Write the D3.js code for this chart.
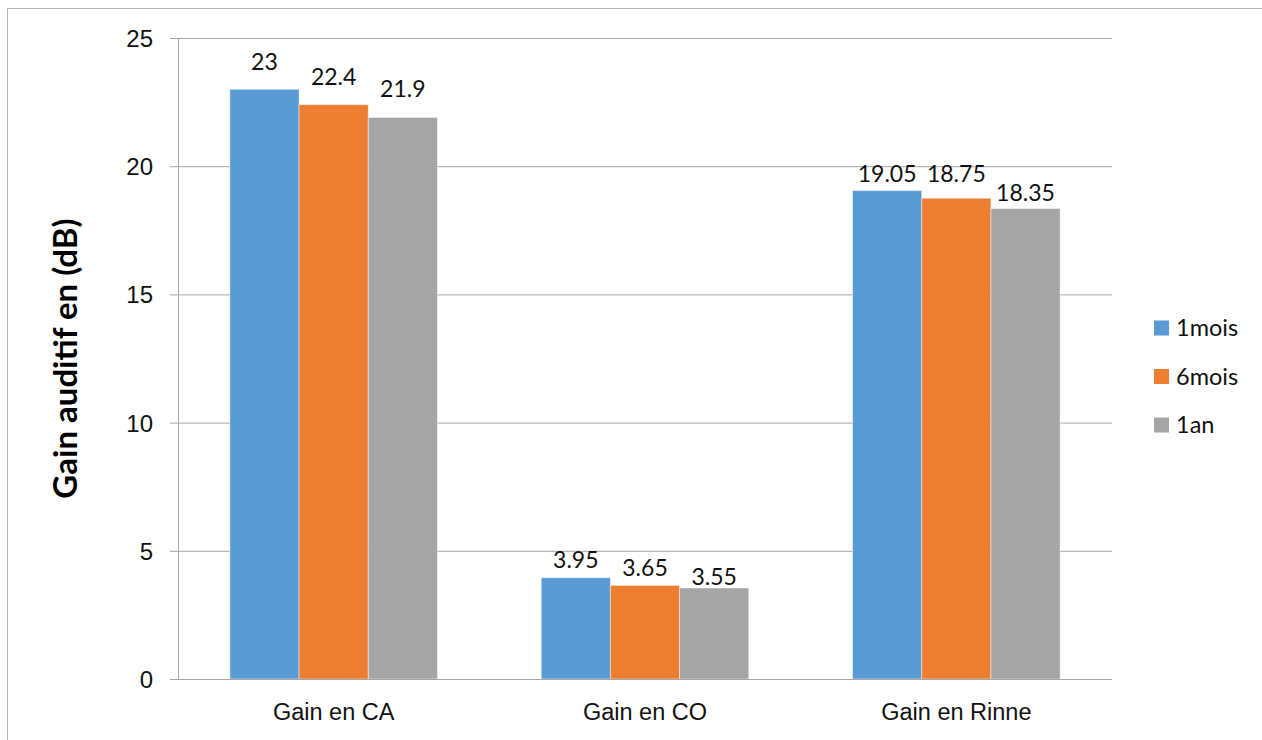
<!DOCTYPE html>
<html>
<head>
<meta charset="utf-8">
<script src="https://cdn.jsdelivr.net/npm/d3@7/dist/d3.min.js"></script>
<style>
  html, body { margin: 0; padding: 0; background: #fff; }
  svg { display: block; font-family: Lato, "Open Sans", sans-serif; }
</style>
</head>
<body>
<svg id="chart" width="1262" height="740"></svg>
<script>
// Hearing gain per test, at three follow-up times
const categories = ["Gain en CA", "Gain en CO", "Gain en Rinne"];
const seriesNames = ["1mois", "6mois", "1an"];
const gain1mois = [23, 3.95, 19.05];
const gain6mois = [22.4, 3.65, 18.75];
const gain1an = [21.9, 3.55, 18.35];
const yTicks = [0, 5, 10, 15, 20, 25];
const yTitle = "Gain auditif en (dB)";

const seriesValues = [gain1mois, gain6mois, gain1an];
const colors = ["#5B9BD5", "#ED7D31", "#A5A5A5"];

const svg = d3.select("#chart");

// frame around the chart
svg.append("rect")
  .attr("x", 7.5).attr("y", 8.5)
  .attr("width", 1300).attr("height", 800)
  .attr("fill", "none").attr("stroke", "#b3b3b3").attr("stroke-width", 1);

const plot = { left: 178, right: 1112, top: 38, bottom: 679 };

const x = d3.scaleBand()
  .domain(categories)
  .range([plot.left, plot.right])
  .paddingInner(1 / 3)
  .paddingOuter(1 / 6);

const xs = d3.scaleBand()
  .domain(seriesNames)
  .range([0, x.bandwidth()])
  .padding(0);

const y = d3.scaleLinear()
  .domain([0, 25])
  .range([plot.bottom, plot.top]);

// gridlines and left ticks
const yAxis = d3.axisLeft(y)
  .tickValues(yTicks)
  .tickSize(-(plot.right - plot.left))
  .tickPadding(25)
  .tickFormat(d3.format("d"));

const gy = svg.append("g")
  .attr("transform", `translate(${plot.left},0)`)
  .call(yAxis);
gy.select(".domain").remove();
gy.selectAll(".tick line")
  .attr("stroke", "#a6a6a6")
  .attr("stroke-width", 1)
  .attr("x1", -8);
gy.selectAll(".tick text")
  .attr("fill", "#111")
  .style("font-size", "24px")
  .attr("dy", "0.35em");

// vertical axis line
svg.append("line")
  .attr("x1", plot.left + 0.5).attr("x2", plot.left + 0.5)
  .attr("y1", plot.top).attr("y2", plot.bottom)
  .attr("stroke", "#a6a6a6").attr("stroke-width", 1);

// bars
const rows = categories.map((c, i) => ({
  category: c,
  values: seriesNames.map((s, j) => ({ series: s, value: seriesValues[j][i], j }))
}));

// vertical label lift above each bar (px), to keep neighbouring labels apart
const labelLift = [[19, 20, 20], [10, 9, 3], [9, 16, 8]];

const groups = svg.append("g").selectAll("g")
  .data(rows)
  .join("g")
  .attr("transform", d => `translate(${x(d.category)},0)`);

groups.selectAll("rect")
  .data(d => d.values)
  .join("rect")
  .attr("x", d => xs(d.series))
  .attr("y", d => y(d.value))
  .attr("width", xs.bandwidth())
  .attr("height", d => y(0) - y(d.value))
  .attr("fill", d => colors[d.j])
  .attr("stroke", "#ffffff")
  .attr("stroke-opacity", 0.45)
  .attr("stroke-width", 1);

groups.each(function (row, i) {
  d3.select(this).selectAll("text.val")
    .data(row.values)
    .join("text")
    .attr("class", "val")
    .attr("x", d => xs(d.series) + xs.bandwidth() / 2)
    .attr("y", d => y(d.value) - labelLift[i][d.j])
    .attr("text-anchor", "middle")
    .attr("fill", "#111")
    .style("font-size", "23px")
    .text(d => d.value);
});

// baseline
svg.append("line")
  .attr("x1", plot.left - 8).attr("x2", plot.right)
  .attr("y1", plot.bottom + 0.5).attr("y2", plot.bottom + 0.5)
  .attr("stroke", "#a6a6a6").attr("stroke-width", 1);

// category labels
const gx = svg.append("g")
  .attr("transform", `translate(0,${plot.bottom})`)
  .call(d3.axisBottom(x).tickSize(0).tickPadding(0));
gx.select(".domain").remove();
gx.selectAll(".tick text")
  .attr("y", 41)
  .attr("dy", 0)
  .attr("fill", "#111")
  .style("font-size", "23.5px");

// y axis title
svg.append("text")
  .attr("transform", `translate(77,${(plot.top + plot.bottom) / 2}) rotate(-90)`)
  .attr("text-anchor", "middle")
  .attr("fill", "#000")
  .style("font-size", "33px")
  .style("font-weight", "bold")
  .text(yTitle);

// legend
const legend = svg.append("g").attr("transform", "translate(1154,328)");
const li = legend.selectAll("g")
  .data(seriesNames)
  .join("g")
  .attr("transform", (d, i) => `translate(0,${i * 48.5})`);
li.append("rect")
  .attr("x", 0).attr("y", -7.5)
  .attr("width", 15).attr("height", 15)
  .attr("fill", (d, i) => colors[i]);
li.append("text")
  .attr("x", 22).attr("y", 0)
  .attr("dy", "0.35em")
  .attr("fill", "#111")
  .style("font-size", "23.5px")
  .text(d => d);
</script>
</body>
</html>
